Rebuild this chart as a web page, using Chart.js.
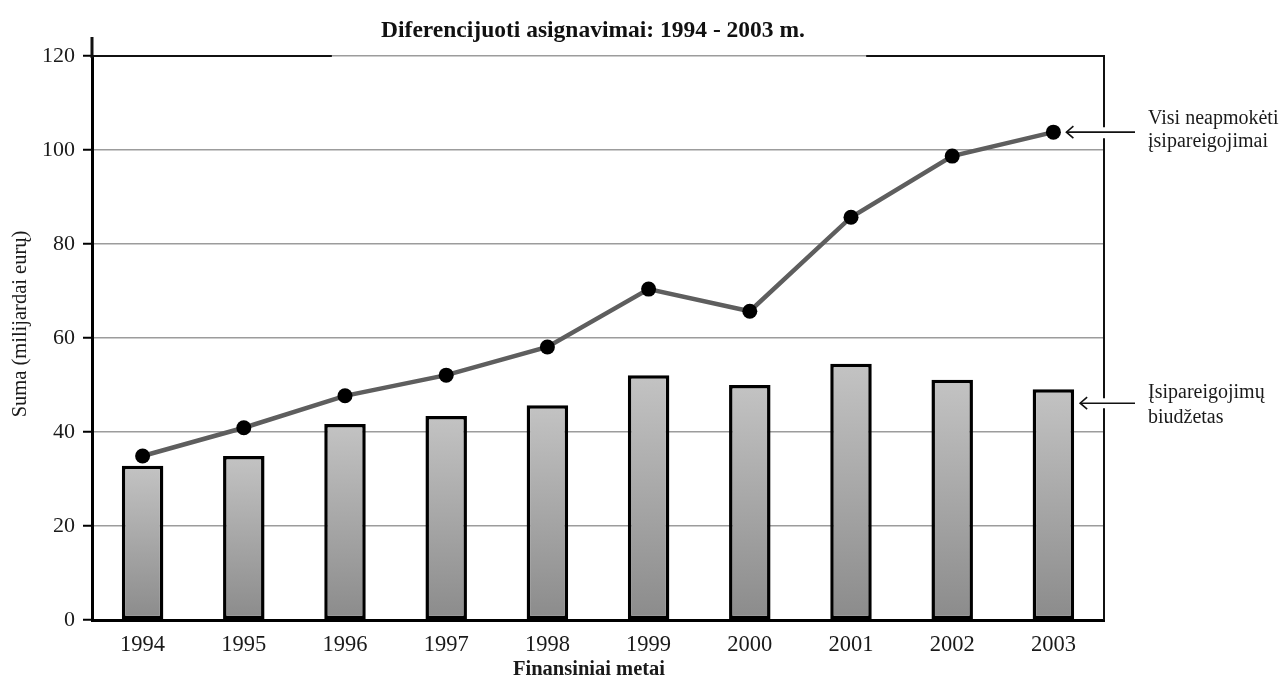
<!DOCTYPE html>
<html lang="lt">
<head>
<meta charset="utf-8">
<title>Diferencijuoti asignavimai: 1994 - 2003 m.</title>
<script src="https://cdn.jsdelivr.net/npm/chart.js@4.4.1/dist/chart.umd.min.js"></script>
<style>
  html, body { margin: 0; padding: 0; background: #ffffff; }
  #wrap { width: 1285px; height: 679px; position: relative; }
</style>
</head>
<body>
<div id="wrap"><canvas id="c" width="1285" height="679"></canvas></div>
<script>
// Finansiniai metai
const years = ['1994', '1995', '1996', '1997', '1998', '1999', '2000', '2001', '2002', '2003'];
// Visi neapmokėti įsipareigojimai (mlrd. eurų)
const outstanding = [34.9, 40.9, 47.7, 52.1, 58.1, 70.4, 65.7, 85.7, 98.7, 103.8];
// Įsipareigojimų biudžetas (mlrd. eurų)
const commitments = [32.8, 34.9, 41.7, 43.4, 45.7, 52.1, 50.0, 54.5, 51.1, 49.1];
// Y ašies padalos
const yTicks = [0, 20, 40, 60, 80, 100, 120];

const titleText = 'Diferencijuoti asignavimai: 1994 - 2003 m.';
const yTitleText = 'Suma (milijardai eurų)';
const xTitleText = 'Finansiniai metai';
const lineLabel = ['Visi neapmokėti', 'įsipareigojimai'];
const barLabel = ['Įsipareigojimų', 'biudžetas'];

const SERIF = '"Liberation Serif", "DejaVu Serif", serif';

function barGradient(ctx) {
  const chart = ctx.chart;
  const area = chart.chartArea;
  if (!area || ctx.parsed == null) return '#a8a8a8';
  const yScale = chart.scales.y;
  const top = yScale.getPixelForValue(ctx.parsed.y);
  const g = chart.ctx.createLinearGradient(0, top, 0, area.bottom);
  g.addColorStop(0, '#c3c3c3');
  g.addColorStop(1, '#8b8b8b');
  return g;
}

function drawArrow(c, x1, y, x2) {
  c.save();
  c.strokeStyle = '#111111';
  c.lineWidth = 1.6;
  c.beginPath();
  c.moveTo(x1, y);
  c.lineTo(x2, y);
  c.stroke();
  c.beginPath();
  c.moveTo(x2 + 7, y - 6);
  c.lineTo(x2, y);
  c.lineTo(x2 + 7, y + 6);
  c.stroke();
  c.restore();
}

const decorations = {
  id: 'decorations',
  afterDraw(chart) {
    const c = chart.ctx;
    const a = chart.chartArea;
    const w = a.right - a.left;
    const xs = chart.scales.x;
    const ys = chart.scales.y;
    const last = years.length - 1;

    const py = ys.getPixelForValue(outstanding[last]);
    const px = xs.getPixelForValue(last);
    const bar = chart.getDatasetMeta(1).data[last];
    const by = ys.getPixelForValue(commitments[last]) + 14;

    c.save();
    // right edge of the frame, broken where the callouts pass
    c.strokeStyle = '#111111';
    c.lineWidth = 2;
    c.beginPath();
    c.moveTo(a.right, a.top - 1);
    c.lineTo(a.right, py - 5);
    c.moveTo(a.right, py + 6);
    c.lineTo(a.right, by - 5);
    c.moveTo(a.right, by + 5);
    c.lineTo(a.right, a.bottom);
    c.stroke();
    // heavier parts of the top edge
    c.beginPath();
    c.moveTo(a.left, a.top);
    c.lineTo(a.left + w * 0.237, a.top);
    c.moveTo(a.left + w * 0.765, a.top);
    c.lineTo(a.right, a.top);
    c.stroke();
    // y axis rises a little above the frame
    c.lineWidth = 3;
    c.beginPath();
    c.moveTo(a.left, a.top - 19);
    c.lineTo(a.left, a.top + 2);
    c.stroke();

    // title
    c.fillStyle = '#111111';
    c.font = 'bold 23.5px ' + SERIF;
    c.textAlign = 'center';
    c.textBaseline = 'middle';
    c.fillText(titleText, (a.left + a.right) / 2 - 5, a.top - 25);

    // x axis title
    c.font = 'bold 20.5px ' + SERIF;
    c.fillStyle = '#1a1a1a';
    c.fillText(xTitleText, (a.left + a.right) / 2 - 9, a.bottom + 50);

    // y axis title
    c.save();
    c.translate(21, (a.top + a.bottom) / 2 - 14);
    c.rotate(-Math.PI / 2);
    c.font = '20.5px ' + SERIF;
    c.fillText(yTitleText, 0, 0);
    c.restore();

    // series callouts
    const textX = a.right + 44;
    const arrowStart = a.right + 31;
    drawArrow(c, arrowStart, py, px + 13);
    drawArrow(c, arrowStart, by, bar.x + bar.width / 2 + 6);

    c.font = '20px ' + SERIF;
    c.textAlign = 'left';
    c.fillStyle = '#1a1a1a';
    c.fillText(lineLabel[0], textX, py - 13);
    c.fillText(lineLabel[1], textX, py + 10);
    c.fillText(barLabel[0], textX, by - 10);
    c.fillText(barLabel[1], textX, by + 15);
    c.restore();
  }
};

new Chart(document.getElementById('c'), {
  type: 'bar',
  data: {
    labels: years,
    datasets: [
      {
        type: 'line',
        label: lineLabel.join(' '),
        data: outstanding,
        borderColor: '#5e5e5e',
        borderWidth: 4.5,
        pointBackgroundColor: '#000000',
        pointBorderColor: '#000000',
        pointRadius: 7.5,
        pointBorderWidth: 0,
        tension: 0,
        order: 0
      },
      {
        type: 'bar',
        label: barLabel.join(' '),
        data: commitments,
        backgroundColor: barGradient,
        borderColor: '#000000',
        borderWidth: 3.5,
        borderSkipped: false,
        categoryPercentage: 1,
        barPercentage: 0.41,
        order: 1
      }
    ]
  },
  options: {
    responsive: false,
    animation: false,
    devicePixelRatio: 1,
    layout: { padding: { top: 56, right: 181, left: 0, bottom: 0 } },
    plugins: {
      legend: { display: false },
      title: { display: false },
      tooltip: { enabled: false }
    },
    scales: {
      x: {
        grid: { display: false, drawTicks: false },
        border: { color: '#000000', width: 3 },
        ticks: {
          color: '#1a1a1a',
          padding: 12,
          font: { family: SERIF, size: 22.5 }
        },
        title: { display: false },
        afterFit(s) { s.height = 59; }
      },
      y: {
        min: 0,
        max: 120,
        afterBuildTicks(s) { s.ticks = yTicks.map(v => ({ value: v })); },
        grid: {
          color: '#9c9c9c',
          lineWidth: 1.5,
          tickColor: '#000000',
          tickLength: 9,
          tickWidth: 2
        },
        border: { color: '#000000', width: 3 },
        ticks: {
          color: '#1a1a1a',
          padding: 8,
          font: { family: SERIF, size: 22 }
        },
        title: { display: false },
        afterFit(s) { s.width = 92; }
      }
    }
  },
  plugins: [decorations]
});
</script>
</body>
</html>
